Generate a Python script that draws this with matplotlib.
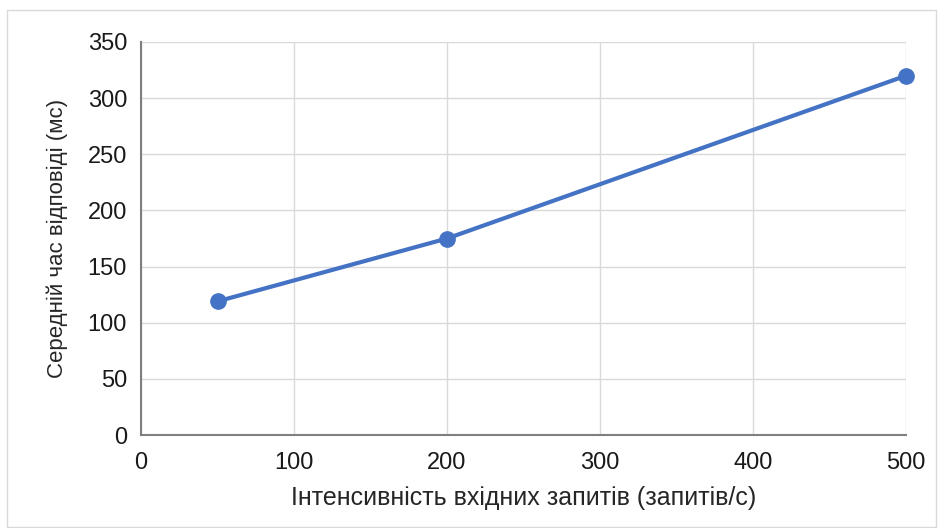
import matplotlib.pyplot as plt
from matplotlib.patches import Rectangle

# дані з графіка
intensity = [50, 200, 500]
resp_time = [119, 175, 320]
xticks = [0, 100, 200, 300, 400, 500]
yticks = [0, 50, 100, 150, 200, 250, 300, 350]

plt.rcParams['font.family'] = ['Liberation Sans', 'DejaVu Sans']

W, H = 940, 528
fig = plt.figure(figsize=(W / 100, H / 100), dpi=100)
# рамка діаграми
fig.patches.append(Rectangle((7 / W, 0.002), 929 / W, 1 - 10 / H - 0.002,
                             transform=fig.transFigure, fill=False,
                             edgecolor='#d9d9d9', lw=1))

ax = fig.add_axes([141 / W, 1 - 435 / H, 765 / W, 393 / H])
ax.plot(intensity, resp_time, color='#4472C4', lw=3, marker='o',
        markersize=11, zorder=3, clip_on=False)

ax.set_xlim(0, 500)
ax.set_ylim(0, 350)
ax.set_xticks(xticks)
ax.set_yticks(yticks)
ax.grid(True, color='#d9d9d9', lw=1)
ax.set_axisbelow(True)
for s in ['top', 'right']:
    ax.spines[s].set_visible(False)
for s in ['left', 'bottom']:
    ax.spines[s].set_color('#7f7f7f')
    ax.spines[s].set_linewidth(1.5)
ax.tick_params(length=0, labelsize=17, pad=10, colors='#1a1a1a')
ax.tick_params(axis='x', pad=12)

ax.set_xlabel('Інтенсивність вхідних запитів (запитів/с)', fontsize=18,
              labelpad=9, color='#262626')
ax.set_ylabel('Середній час відповіді (мс)', fontsize=16, labelpad=14,
              color='#262626')

fig.savefig('out.png', dpi=100)
